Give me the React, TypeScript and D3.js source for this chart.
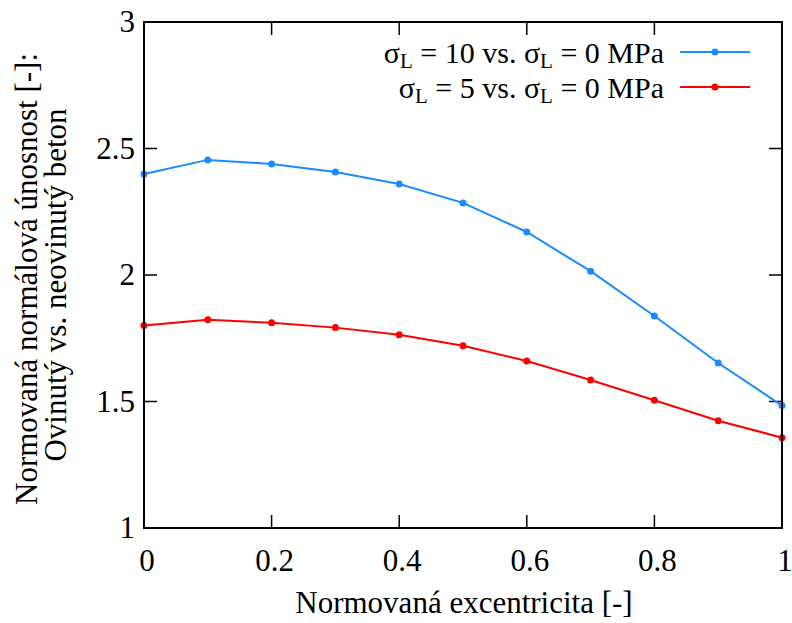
import React from "react";
import * as d3 from "d3";

const xValues = [0, 0.1, 0.2, 0.3, 0.4, 0.5, 0.6, 0.7, 0.8, 0.9, 1.0];
const series10 = [2.399, 2.455, 2.439, 2.407, 2.36, 2.285, 2.17, 2.015, 1.838, 1.652, 1.484];
const series5 = [1.8, 1.823, 1.811, 1.792, 1.764, 1.72, 1.66, 1.585, 1.505, 1.424, 1.357];
const xTicks = [0, 0.2, 0.4, 0.6, 0.8, 1];
const yTicks = [1, 1.5, 2, 2.5, 3];
const xTickLabels = ["0", "0.2", "0.4", "0.6", "0.8", "1"];
const yTickLabels = ["1", "1.5", "2", "2.5", "3"];

const FONT = "'Liberation Serif', 'DejaVu Serif', serif";

export default function App() {
  const W = 792, H = 623;
  const left = 144, right = 782, top = 22, bottom = 528;
  const x = d3.scaleLinear().domain([0, 1]).range([left, right]);
  const y = d3.scaleLinear().domain([1, 3]).range([bottom, top]);
  const line = d3.line<number>().x((_, i) => x(xValues[i])).y((d) => y(d));
  const tl = 13;
  const FS = 31;
  const series = [
    { data: series10, color: "#1a8cff", label: "10" },
    { data: series5, color: "#ff0000", label: "5" },
  ];
  return (
    <svg width={W} height={H} style={{ position: "absolute", left: 0, top: 0, background: "#fff" }} fontFamily={FONT}>
      <rect x={0} y={0} width={W} height={H} fill="#fff" />
      {xTicks.map((t) => (
        <g key={"xt" + t}>
          <line x1={x(t)} x2={x(t)} y1={bottom} y2={bottom - tl} stroke="#000" strokeWidth={1.5} />
          <line x1={x(t)} x2={x(t)} y1={top} y2={top + tl} stroke="#000" strokeWidth={1.5} />
        </g>
      ))}
      {yTicks.map((t) => (
        <g key={"yt" + t}>
          <line x1={left} x2={left + tl} y1={y(t)} y2={y(t)} stroke="#000" strokeWidth={1.5} />
          <line x1={right} x2={right - tl} y1={y(t)} y2={y(t)} stroke="#000" strokeWidth={1.5} />
        </g>
      ))}
      {xTicks.map((t, i) => (
        <text key={"xl" + t} x={x(t) + 3} y={571} fontSize={FS} textAnchor="middle">
          {xTickLabels[i]}
        </text>
      ))}
      {yTicks.map((t, i) => (
        <text key={"yl" + t} x={135} y={y(t) + 10} fontSize={FS} textAnchor="end">
          {yTickLabels[i]}
        </text>
      ))}
      {series.map((s) => (
        <g key={s.label}>
          <path d={line(s.data) || ""} fill="none" stroke={s.color} strokeWidth={2} />
          {s.data.map((v, i) => (
            <circle key={i} cx={x(xValues[i])} cy={y(v)} r={3.5} fill={s.color} />
          ))}
        </g>
      ))}
      <rect x={left} y={top} width={right - left} height={bottom - top} fill="none" stroke="#000" strokeWidth={2} />
      {series.map((s, i) => {
        const ly = 52 + i * 35;
        return (
          <g key={"lg" + s.label}>
            <text x={664} y={ly + 11} fontSize={30} textAnchor="end">
              <tspan>σ</tspan>
              <tspan fontSize={21} dy={5}>L</tspan>
              <tspan dy={-5}>{` = ${s.label} vs. σ`}</tspan>
              <tspan fontSize={21} dy={5}>L</tspan>
              <tspan dy={-5}> = 0 MPa</tspan>
            </text>
            <line x1={680} x2={750} y1={ly} y2={ly} stroke={s.color} strokeWidth={2} />
            <circle cx={715} cy={ly} r={3.5} fill={s.color} />
          </g>
        );
      })}
      <text x={464} y={613} fontSize={FS} textAnchor="middle">
        Normovaná excentricita [-]
      </text>
      <text transform="translate(37,279) rotate(-90)" fontSize={FS} textAnchor="middle">
        Normovaná normálová únosnost [-]:
      </text>
      <text transform="translate(66,285) rotate(-90)" fontSize={FS} textAnchor="middle">
        Ovinutý vs. neovinutý beton
      </text>
    </svg>
  );
}
